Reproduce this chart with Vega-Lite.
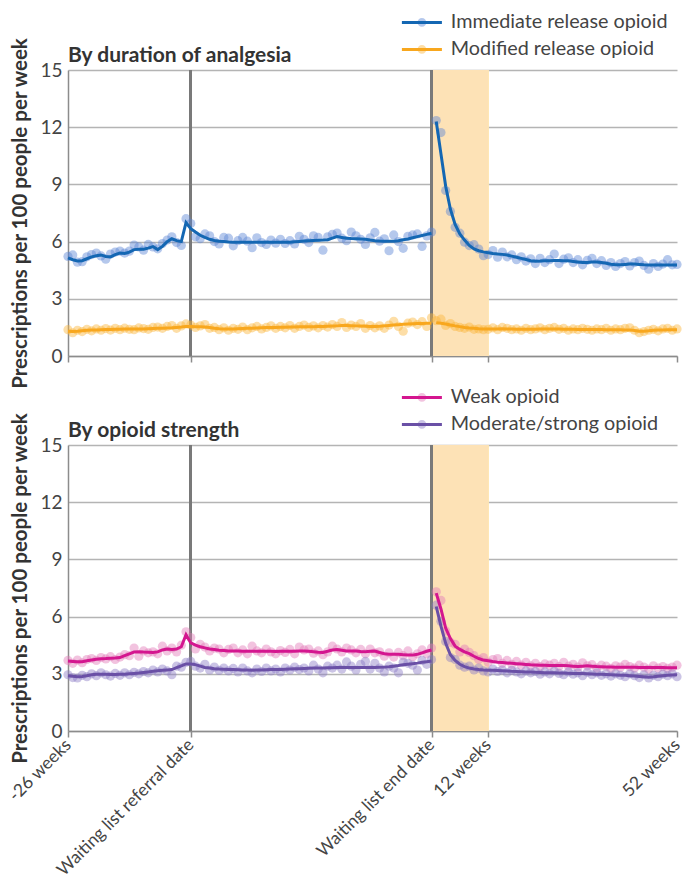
{
"$schema": "https://vega.github.io/schema/vega-lite/v6.json",
"padding": {"left": 5, "top": 12, "right": 5, "bottom": 0},
"spacing": -2,
"datasets": {
"top": [
{"s":"IR","x":-26,"o":5.22,"f":5.15},{"s":"IR","x":-25,"o":5.3,"f":5.05},{"s":"IR","x":-24,"o":4.92,"f":4.98},{"s":"IR","x":-23,"o":4.95,"f":5.0},{"s":"IR","x":-22,"o":5.2,"f":5.1},{"s":"IR","x":-21,"o":5.32,"f":5.2},{"s":"IR","x":-20,"o":5.4,"f":5.26},{"s":"IR","x":-19,"o":5.25,"f":5.3},{"s":"IR","x":-18,"o":5.08,"f":5.22},{"s":"IR","x":-17,"o":5.35,"f":5.2},{"s":"IR","x":-16,"o":5.45,"f":5.32},{"s":"IR","x":-15,"o":5.5,"f":5.4},{"s":"IR","x":-14,"o":5.4,"f":5.38},{"s":"IR","x":-13,"o":5.5,"f":5.45},{"s":"IR","x":-12,"o":5.82,"f":5.58},{"s":"IR","x":-11,"o":5.72,"f":5.6},{"s":"IR","x":-10,"o":5.55,"f":5.6},{"s":"IR","x":-9,"o":5.85,"f":5.66},{"s":"IR","x":-8,"o":5.72,"f":5.74},{"s":"IR","x":-7,"o":5.62,"f":5.58},{"s":"IR","x":-6,"o":5.9,"f":5.75},{"s":"IR","x":-5,"o":6.08,"f":6.0},{"s":"IR","x":-4,"o":6.25,"f":6.15},{"s":"IR","x":-3,"o":5.95,"f":6.05},{"s":"IR","x":-2,"o":5.8,"f":6.0},{"s":"IR","x":-1,"o":7.2,"f":7.0},{"s":"IR","x":0,"o":6.95,"f":6.68},
{"s":"IR","x":1,"o":6.25,"f":6.5},{"s":"IR","x":2,"o":6.15,"f":6.33},{"s":"IR","x":3,"o":6.4,"f":6.22},{"s":"IR","x":4,"o":6.3,"f":6.12},{"s":"IR","x":5,"o":6.0,"f":6.06},{"s":"IR","x":6,"o":5.88,"f":6.02},{"s":"IR","x":7,"o":6.22,"f":6.0},{"s":"IR","x":8,"o":6.18,"f":5.98},{"s":"IR","x":9,"o":5.78,"f":5.97},{"s":"IR","x":10,"o":6.05,"f":5.96},{"s":"IR","x":11,"o":6.22,"f":5.96},{"s":"IR","x":12,"o":6.02,"f":5.96},{"s":"IR","x":13,"o":5.68,"f":5.96},{"s":"IR","x":14,"o":6.2,"f":5.96},{"s":"IR","x":15,"o":5.95,"f":5.96},{"s":"IR","x":16,"o":5.85,"f":5.96},{"s":"IR","x":17,"o":6.08,"f":5.96},{"s":"IR","x":18,"o":5.92,"f":5.96},{"s":"IR","x":19,"o":6.12,"f":5.97},{"s":"IR","x":20,"o":5.9,"f":5.97},{"s":"IR","x":21,"o":6.05,"f":5.97},{"s":"IR","x":22,"o":5.88,"f":5.99},{"s":"IR","x":23,"o":6.28,"f":6.01},{"s":"IR","x":24,"o":6.12,"f":6.03},{"s":"IR","x":25,"o":5.95,"f":6.05},{"s":"IR","x":26,"o":6.3,"f":6.06},{"s":"IR","x":27,"o":6.22,"f":6.07},{"s":"IR","x":28,"o":5.55,"f":6.08},{"s":"IR","x":29,"o":6.25,"f":6.1},{"s":"IR","x":30,"o":6.38,"f":6.18},{"s":"IR","x":31,"o":6.45,"f":6.26},{"s":"IR","x":32,"o":6.18,"f":6.22},{"s":"IR","x":33,"o":6.05,"f":6.18},{"s":"IR","x":34,"o":6.5,"f":6.16},{"s":"IR","x":35,"o":6.3,"f":6.15},{"s":"IR","x":36,"o":6.12,"f":6.14},{"s":"IR","x":37,"o":5.85,"f":6.12},{"s":"IR","x":38,"o":6.2,"f":6.08},{"s":"IR","x":39,"o":6.48,"f":6.05},{"s":"IR","x":40,"o":6.02,"f":6.03},{"s":"IR","x":41,"o":6.15,"f":6.02},{"s":"IR","x":42,"o":5.52,"f":6.02},{"s":"IR","x":43,"o":6.35,"f":6.02},{"s":"IR","x":44,"o":6.0,"f":6.05},{"s":"IR","x":45,"o":5.65,"f":6.1},{"s":"IR","x":46,"o":6.28,"f":6.14},{"s":"IR","x":47,"o":6.35,"f":6.2},{"s":"IR","x":48,"o":6.4,"f":6.26},{"s":"IR","x":49,"o":5.75,"f":6.32},{"s":"IR","x":50,"o":6.3,"f":6.38},{"s":"IR","x":51,"o":6.5,"f":6.44},
{"s":"IR","x":52,"o":12.35,"f":12.3},{"s":"IR","x":53,"o":11.72,"f":10.6},{"s":"IR","x":54,"o":8.68,"f":8.9},{"s":"IR","x":55,"o":7.58,"f":7.7},{"s":"IR","x":56,"o":6.75,"f":6.9},{"s":"IR","x":57,"o":6.44,"f":6.4},{"s":"IR","x":58,"o":5.97,"f":6.08},{"s":"IR","x":59,"o":5.79,"f":5.8},{"s":"IR","x":60,"o":5.84,"f":5.62},{"s":"IR","x":61,"o":5.61,"f":5.52},{"s":"IR","x":62,"o":5.26,"f":5.46},{"s":"IR","x":63,"o":5.32,"f":5.42},{"s":"IR","x":64,"o":5.53,"f":5.38},{"s":"IR","x":65,"o":5.18,"f":5.35},{"s":"IR","x":66,"o":5.45,"f":5.33},{"s":"IR","x":67,"o":5.2,"f":5.3},{"s":"IR","x":68,"o":5.3,"f":5.24},{"s":"IR","x":69,"o":5.05,"f":5.18},{"s":"IR","x":70,"o":5.2,"f":5.12},{"s":"IR","x":71,"o":4.98,"f":5.06},{"s":"IR","x":72,"o":5.1,"f":5.0},{"s":"IR","x":73,"o":4.85,"f":4.97},{"s":"IR","x":74,"o":5.12,"f":4.98},{"s":"IR","x":75,"o":4.9,"f":5.0},{"s":"IR","x":76,"o":5.05,"f":5.0},{"s":"IR","x":77,"o":5.35,"f":5.01},{"s":"IR","x":78,"o":4.85,"f":5.01},{"s":"IR","x":79,"o":5.08,"f":5.0},{"s":"IR","x":80,"o":5.15,"f":4.99},{"s":"IR","x":81,"o":4.9,"f":4.96},{"s":"IR","x":82,"o":5.05,"f":4.93},{"s":"IR","x":83,"o":4.78,"f":4.9},{"s":"IR","x":84,"o":5.02,"f":4.9},{"s":"IR","x":85,"o":5.12,"f":4.93},{"s":"IR","x":86,"o":4.85,"f":4.93},{"s":"IR","x":87,"o":5.0,"f":4.91},{"s":"IR","x":88,"o":4.75,"f":4.86},{"s":"IR","x":89,"o":4.9,"f":4.81},{"s":"IR","x":90,"o":4.7,"f":4.78},{"s":"IR","x":91,"o":4.85,"f":4.78},{"s":"IR","x":92,"o":4.95,"f":4.8},{"s":"IR","x":93,"o":4.72,"f":4.82},{"s":"IR","x":94,"o":4.9,"f":4.82},{"s":"IR","x":95,"o":4.98,"f":4.8},{"s":"IR","x":96,"o":4.75,"f":4.78},{"s":"IR","x":97,"o":4.55,"f":4.77},{"s":"IR","x":98,"o":4.85,"f":4.77},{"s":"IR","x":99,"o":4.7,"f":4.77},{"s":"IR","x":100,"o":4.82,"f":4.77},{"s":"IR","x":101,"o":5.05,"f":4.77},{"s":"IR","x":102,"o":4.78,"f":4.77},{"s":"IR","x":103,"o":4.8,"f":4.77},
{"s":"MR","x":-26,"o":1.38,"f":1.3},{"s":"MR","x":-25,"o":1.22,"f":1.28},{"s":"MR","x":-24,"o":1.35,"f":1.3},{"s":"MR","x":-23,"o":1.28,"f":1.33},{"s":"MR","x":-22,"o":1.4,"f":1.35},{"s":"MR","x":-21,"o":1.32,"f":1.36},{"s":"MR","x":-20,"o":1.42,"f":1.37},{"s":"MR","x":-19,"o":1.35,"f":1.38},{"s":"MR","x":-18,"o":1.44,"f":1.39},{"s":"MR","x":-17,"o":1.36,"f":1.39},{"s":"MR","x":-16,"o":1.45,"f":1.4},{"s":"MR","x":-15,"o":1.38,"f":1.4},{"s":"MR","x":-14,"o":1.46,"f":1.41},{"s":"MR","x":-13,"o":1.4,"f":1.41},{"s":"MR","x":-12,"o":1.38,"f":1.42},{"s":"MR","x":-11,"o":1.47,"f":1.42},{"s":"MR","x":-10,"o":1.44,"f":1.42},{"s":"MR","x":-9,"o":1.4,"f":1.43},{"s":"MR","x":-8,"o":1.5,"f":1.44},{"s":"MR","x":-7,"o":1.52,"f":1.45},{"s":"MR","x":-6,"o":1.45,"f":1.46},{"s":"MR","x":-5,"o":1.55,"f":1.47},{"s":"MR","x":-4,"o":1.6,"f":1.48},{"s":"MR","x":-3,"o":1.45,"f":1.5},{"s":"MR","x":-2,"o":1.58,"f":1.52},{"s":"MR","x":-1,"o":1.68,"f":1.55},{"s":"MR","x":0,"o":1.62,"f":1.55},
{"s":"MR","x":1,"o":1.5,"f":1.54},{"s":"MR","x":2,"o":1.58,"f":1.53},{"s":"MR","x":3,"o":1.65,"f":1.52},{"s":"MR","x":4,"o":1.45,"f":1.49},{"s":"MR","x":5,"o":1.5,"f":1.46},{"s":"MR","x":6,"o":1.38,"f":1.43},{"s":"MR","x":7,"o":1.48,"f":1.42},{"s":"MR","x":8,"o":1.35,"f":1.42},{"s":"MR","x":9,"o":1.45,"f":1.42},{"s":"MR","x":10,"o":1.4,"f":1.43},{"s":"MR","x":11,"o":1.52,"f":1.44},{"s":"MR","x":12,"o":1.38,"f":1.45},{"s":"MR","x":13,"o":1.48,"f":1.46},{"s":"MR","x":14,"o":1.55,"f":1.47},{"s":"MR","x":15,"o":1.42,"f":1.48},{"s":"MR","x":16,"o":1.5,"f":1.49},{"s":"MR","x":17,"o":1.58,"f":1.5},{"s":"MR","x":18,"o":1.45,"f":1.5},{"s":"MR","x":19,"o":1.55,"f":1.51},{"s":"MR","x":20,"o":1.48,"f":1.51},{"s":"MR","x":21,"o":1.6,"f":1.52},{"s":"MR","x":22,"o":1.45,"f":1.52},{"s":"MR","x":23,"o":1.55,"f":1.53},{"s":"MR","x":24,"o":1.62,"f":1.53},{"s":"MR","x":25,"o":1.5,"f":1.54},{"s":"MR","x":26,"o":1.58,"f":1.54},{"s":"MR","x":27,"o":1.48,"f":1.55},{"s":"MR","x":28,"o":1.6,"f":1.55},{"s":"MR","x":29,"o":1.52,"f":1.56},{"s":"MR","x":30,"o":1.65,"f":1.57},{"s":"MR","x":31,"o":1.55,"f":1.58},{"s":"MR","x":32,"o":1.75,"f":1.6},{"s":"MR","x":33,"o":1.5,"f":1.6},{"s":"MR","x":34,"o":1.62,"f":1.59},{"s":"MR","x":35,"o":1.55,"f":1.58},{"s":"MR","x":36,"o":1.7,"f":1.57},{"s":"MR","x":37,"o":1.45,"f":1.56},{"s":"MR","x":38,"o":1.6,"f":1.55},{"s":"MR","x":39,"o":1.48,"f":1.55},{"s":"MR","x":40,"o":1.58,"f":1.56},{"s":"MR","x":41,"o":1.45,"f":1.58},{"s":"MR","x":42,"o":1.62,"f":1.6},{"s":"MR","x":43,"o":1.82,"f":1.62},{"s":"MR","x":44,"o":1.55,"f":1.64},{"s":"MR","x":45,"o":1.3,"f":1.66},{"s":"MR","x":46,"o":1.72,"f":1.68},{"s":"MR","x":47,"o":1.78,"f":1.69},{"s":"MR","x":48,"o":1.65,"f":1.7},{"s":"MR","x":49,"o":1.8,"f":1.71},{"s":"MR","x":50,"o":1.55,"f":1.72},{"s":"MR","x":51,"o":2.0,"f":1.72},
{"s":"MR","x":52,"o":1.85,"f":1.75},{"s":"MR","x":53,"o":1.93,"f":1.72},{"s":"MR","x":54,"o":1.6,"f":1.68},{"s":"MR","x":55,"o":1.7,"f":1.63},{"s":"MR","x":56,"o":1.55,"f":1.58},{"s":"MR","x":57,"o":1.5,"f":1.54},{"s":"MR","x":58,"o":1.45,"f":1.5},{"s":"MR","x":59,"o":1.52,"f":1.47},{"s":"MR","x":60,"o":1.4,"f":1.45},{"s":"MR","x":61,"o":1.42,"f":1.43},{"s":"MR","x":62,"o":1.38,"f":1.42},{"s":"MR","x":63,"o":1.4,"f":1.41},{"s":"MR","x":64,"o":1.48,"f":1.41},{"s":"MR","x":65,"o":1.38,"f":1.42},{"s":"MR","x":66,"o":1.5,"f":1.43},{"s":"MR","x":67,"o":1.45,"f":1.42},{"s":"MR","x":68,"o":1.38,"f":1.41},{"s":"MR","x":69,"o":1.42,"f":1.4},{"s":"MR","x":70,"o":1.35,"f":1.4},{"s":"MR","x":71,"o":1.45,"f":1.4},{"s":"MR","x":72,"o":1.38,"f":1.4},{"s":"MR","x":73,"o":1.42,"f":1.4},{"s":"MR","x":74,"o":1.48,"f":1.41},{"s":"MR","x":75,"o":1.38,"f":1.41},{"s":"MR","x":76,"o":1.45,"f":1.41},{"s":"MR","x":77,"o":1.5,"f":1.41},{"s":"MR","x":78,"o":1.4,"f":1.41},{"s":"MR","x":79,"o":1.45,"f":1.4},{"s":"MR","x":80,"o":1.35,"f":1.4},{"s":"MR","x":81,"o":1.42,"f":1.4},{"s":"MR","x":82,"o":1.38,"f":1.39},{"s":"MR","x":83,"o":1.45,"f":1.39},{"s":"MR","x":84,"o":1.4,"f":1.39},{"s":"MR","x":85,"o":1.35,"f":1.39},{"s":"MR","x":86,"o":1.42,"f":1.39},{"s":"MR","x":87,"o":1.38,"f":1.39},{"s":"MR","x":88,"o":1.45,"f":1.38},{"s":"MR","x":89,"o":1.35,"f":1.38},{"s":"MR","x":90,"o":1.42,"f":1.38},{"s":"MR","x":91,"o":1.38,"f":1.38},{"s":"MR","x":92,"o":1.45,"f":1.37},{"s":"MR","x":93,"o":1.48,"f":1.37},{"s":"MR","x":94,"o":1.35,"f":1.34},{"s":"MR","x":95,"o":1.22,"f":1.3},{"s":"MR","x":96,"o":1.28,"f":1.3},{"s":"MR","x":97,"o":1.35,"f":1.32},{"s":"MR","x":98,"o":1.4,"f":1.35},{"s":"MR","x":99,"o":1.32,"f":1.36},{"s":"MR","x":100,"o":1.42,"f":1.37},{"s":"MR","x":101,"o":1.45,"f":1.38},{"s":"MR","x":102,"o":1.35,"f":1.38},{"s":"MR","x":103,"o":1.42,"f":1.38}
],
"bottom": [
{"s":"W","x":-26,"o":3.7,"f":3.67},{"s":"W","x":-25,"o":3.55,"f":3.65},{"s":"W","x":-24,"o":3.72,"f":3.63},{"s":"W","x":-23,"o":3.58,"f":3.63},{"s":"W","x":-22,"o":3.75,"f":3.68},{"s":"W","x":-21,"o":3.8,"f":3.72},{"s":"W","x":-20,"o":3.7,"f":3.76},{"s":"W","x":-19,"o":3.85,"f":3.79},{"s":"W","x":-18,"o":3.78,"f":3.8},{"s":"W","x":-17,"o":3.9,"f":3.82},{"s":"W","x":-16,"o":3.75,"f":3.83},{"s":"W","x":-15,"o":3.88,"f":3.85},{"s":"W","x":-14,"o":4.0,"f":3.95},{"s":"W","x":-13,"o":3.95,"f":4.05},{"s":"W","x":-12,"o":4.35,"f":4.14},{"s":"W","x":-11,"o":3.92,"f":4.16},{"s":"W","x":-10,"o":4.2,"f":4.14},{"s":"W","x":-9,"o":4.1,"f":4.13},{"s":"W","x":-8,"o":4.15,"f":4.12},{"s":"W","x":-7,"o":4.05,"f":4.15},{"s":"W","x":-6,"o":4.45,"f":4.25},{"s":"W","x":-5,"o":4.2,"f":4.3},{"s":"W","x":-4,"o":4.35,"f":4.28},{"s":"W","x":-3,"o":4.15,"f":4.3},{"s":"W","x":-2,"o":4.5,"f":4.42},{"s":"W","x":-1,"o":5.2,"f":5.05},{"s":"W","x":0,"o":4.9,"f":4.62},
{"s":"W","x":1,"o":4.3,"f":4.5},{"s":"W","x":2,"o":4.55,"f":4.42},{"s":"W","x":3,"o":4.4,"f":4.36},{"s":"W","x":4,"o":4.2,"f":4.3},{"s":"W","x":5,"o":4.35,"f":4.27},{"s":"W","x":6,"o":4.3,"f":4.24},{"s":"W","x":7,"o":4.1,"f":4.22},{"s":"W","x":8,"o":4.28,"f":4.2},{"s":"W","x":9,"o":4.35,"f":4.19},{"s":"W","x":10,"o":4.1,"f":4.19},{"s":"W","x":11,"o":4.25,"f":4.18},{"s":"W","x":12,"o":4.05,"f":4.18},{"s":"W","x":13,"o":4.45,"f":4.18},{"s":"W","x":14,"o":4.2,"f":4.18},{"s":"W","x":15,"o":4.1,"f":4.18},{"s":"W","x":16,"o":4.3,"f":4.18},{"s":"W","x":17,"o":4.15,"f":4.18},{"s":"W","x":18,"o":4.05,"f":4.17},{"s":"W","x":19,"o":4.22,"f":4.18},{"s":"W","x":20,"o":4.12,"f":4.18},{"s":"W","x":21,"o":4.28,"f":4.18},{"s":"W","x":22,"o":4.05,"f":4.18},{"s":"W","x":23,"o":4.4,"f":4.19},{"s":"W","x":24,"o":4.25,"f":4.19},{"s":"W","x":25,"o":4.3,"f":4.18},{"s":"W","x":26,"o":4.08,"f":4.16},{"s":"W","x":27,"o":4.2,"f":4.13},{"s":"W","x":28,"o":4.0,"f":4.12},{"s":"W","x":29,"o":4.15,"f":4.18},{"s":"W","x":30,"o":4.45,"f":4.25},{"s":"W","x":31,"o":4.3,"f":4.28},{"s":"W","x":32,"o":4.15,"f":4.24},{"s":"W","x":33,"o":4.35,"f":4.2},{"s":"W","x":34,"o":4.25,"f":4.19},{"s":"W","x":35,"o":4.1,"f":4.19},{"s":"W","x":36,"o":4.28,"f":4.17},{"s":"W","x":37,"o":4.05,"f":4.16},{"s":"W","x":38,"o":4.3,"f":4.18},{"s":"W","x":39,"o":4.1,"f":4.19},{"s":"W","x":40,"o":4.15,"f":4.12},{"s":"W","x":41,"o":3.92,"f":4.05},{"s":"W","x":42,"o":4.1,"f":4.02},{"s":"W","x":43,"o":3.88,"f":4.02},{"s":"W","x":44,"o":4.12,"f":4.02},{"s":"W","x":45,"o":3.95,"f":4.0},{"s":"W","x":46,"o":4.2,"f":3.98},{"s":"W","x":47,"o":3.9,"f":3.98},{"s":"W","x":48,"o":4.05,"f":4.02},{"s":"W","x":49,"o":4.25,"f":4.1},{"s":"W","x":50,"o":4.05,"f":4.18},{"s":"W","x":51,"o":4.35,"f":4.25},
{"s":"W","x":52,"o":7.3,"f":7.23},{"s":"W","x":53,"o":6.85,"f":6.4},{"s":"W","x":54,"o":5.25,"f":5.4},{"s":"W","x":55,"o":4.65,"f":4.85},{"s":"W","x":56,"o":4.55,"f":4.45},{"s":"W","x":57,"o":4.15,"f":4.28},{"s":"W","x":58,"o":4.3,"f":4.15},{"s":"W","x":59,"o":4.12,"f":4.06},{"s":"W","x":60,"o":3.95,"f":3.92},{"s":"W","x":61,"o":3.75,"f":3.8},{"s":"W","x":62,"o":3.85,"f":3.72},{"s":"W","x":63,"o":3.6,"f":3.68},{"s":"W","x":64,"o":3.75,"f":3.64},{"s":"W","x":65,"o":3.8,"f":3.61},{"s":"W","x":66,"o":3.55,"f":3.59},{"s":"W","x":67,"o":3.7,"f":3.57},{"s":"W","x":68,"o":3.5,"f":3.55},{"s":"W","x":69,"o":3.65,"f":3.53},{"s":"W","x":70,"o":3.45,"f":3.51},{"s":"W","x":71,"o":3.6,"f":3.49},{"s":"W","x":72,"o":3.42,"f":3.47},{"s":"W","x":73,"o":3.55,"f":3.46},{"s":"W","x":74,"o":3.38,"f":3.45},{"s":"W","x":75,"o":3.52,"f":3.45},{"s":"W","x":76,"o":3.45,"f":3.44},{"s":"W","x":77,"o":3.55,"f":3.44},{"s":"W","x":78,"o":3.38,"f":3.43},{"s":"W","x":79,"o":3.6,"f":3.43},{"s":"W","x":80,"o":3.4,"f":3.42},{"s":"W","x":81,"o":3.5,"f":3.4},{"s":"W","x":82,"o":3.35,"f":3.38},{"s":"W","x":83,"o":3.58,"f":3.4},{"s":"W","x":84,"o":3.42,"f":3.42},{"s":"W","x":85,"o":3.48,"f":3.4},{"s":"W","x":86,"o":3.3,"f":3.38},{"s":"W","x":87,"o":3.45,"f":3.37},{"s":"W","x":88,"o":3.4,"f":3.36},{"s":"W","x":89,"o":3.28,"f":3.36},{"s":"W","x":90,"o":3.42,"f":3.35},{"s":"W","x":91,"o":3.35,"f":3.35},{"s":"W","x":92,"o":3.5,"f":3.35},{"s":"W","x":93,"o":3.38,"f":3.34},{"s":"W","x":94,"o":3.3,"f":3.34},{"s":"W","x":95,"o":3.45,"f":3.33},{"s":"W","x":96,"o":3.35,"f":3.33},{"s":"W","x":97,"o":3.25,"f":3.33},{"s":"W","x":98,"o":3.42,"f":3.33},{"s":"W","x":99,"o":3.3,"f":3.33},{"s":"W","x":100,"o":3.38,"f":3.33},{"s":"W","x":101,"o":3.28,"f":3.32},{"s":"W","x":102,"o":3.35,"f":3.32},{"s":"W","x":103,"o":3.45,"f":3.32},
{"s":"MS","x":-26,"o":2.95,"f":2.9},{"s":"MS","x":-25,"o":2.8,"f":2.87},{"s":"MS","x":-24,"o":2.78,"f":2.85},{"s":"MS","x":-23,"o":2.92,"f":2.86},{"s":"MS","x":-22,"o":2.85,"f":2.9},{"s":"MS","x":-21,"o":3.0,"f":2.95},{"s":"MS","x":-20,"o":2.9,"f":2.97},{"s":"MS","x":-19,"o":3.05,"f":2.98},{"s":"MS","x":-18,"o":2.95,"f":2.97},{"s":"MS","x":-17,"o":2.88,"f":2.96},{"s":"MS","x":-16,"o":3.02,"f":2.96},{"s":"MS","x":-15,"o":2.92,"f":2.97},{"s":"MS","x":-14,"o":3.05,"f":2.98},{"s":"MS","x":-13,"o":2.95,"f":3.0},{"s":"MS","x":-12,"o":3.08,"f":3.02},{"s":"MS","x":-11,"o":3.0,"f":3.04},{"s":"MS","x":-10,"o":3.12,"f":3.07},{"s":"MS","x":-9,"o":3.05,"f":3.1},{"s":"MS","x":-8,"o":3.2,"f":3.13},{"s":"MS","x":-7,"o":3.1,"f":3.16},{"s":"MS","x":-6,"o":3.25,"f":3.18},{"s":"MS","x":-5,"o":3.15,"f":3.2},{"s":"MS","x":-4,"o":2.95,"f":3.22},{"s":"MS","x":-3,"o":3.4,"f":3.32},{"s":"MS","x":-2,"o":3.35,"f":3.42},{"s":"MS","x":-1,"o":3.6,"f":3.52},{"s":"MS","x":0,"o":3.65,"f":3.52},
{"s":"MS","x":1,"o":3.4,"f":3.48},{"s":"MS","x":2,"o":3.3,"f":3.4},{"s":"MS","x":3,"o":3.5,"f":3.33},{"s":"MS","x":4,"o":3.2,"f":3.3},{"s":"MS","x":5,"o":3.35,"f":3.27},{"s":"MS","x":6,"o":3.18,"f":3.25},{"s":"MS","x":7,"o":3.3,"f":3.24},{"s":"MS","x":8,"o":3.15,"f":3.23},{"s":"MS","x":9,"o":3.28,"f":3.22},{"s":"MS","x":10,"o":3.1,"f":3.21},{"s":"MS","x":11,"o":3.3,"f":3.2},{"s":"MS","x":12,"o":3.15,"f":3.2},{"s":"MS","x":13,"o":3.05,"f":3.19},{"s":"MS","x":14,"o":3.25,"f":3.2},{"s":"MS","x":15,"o":3.12,"f":3.2},{"s":"MS","x":16,"o":3.3,"f":3.21},{"s":"MS","x":17,"o":3.15,"f":3.22},{"s":"MS","x":18,"o":3.25,"f":3.22},{"s":"MS","x":19,"o":3.1,"f":3.23},{"s":"MS","x":20,"o":3.3,"f":3.24},{"s":"MS","x":21,"o":3.2,"f":3.25},{"s":"MS","x":22,"o":3.35,"f":3.26},{"s":"MS","x":23,"o":3.22,"f":3.27},{"s":"MS","x":24,"o":3.3,"f":3.28},{"s":"MS","x":25,"o":3.15,"f":3.29},{"s":"MS","x":26,"o":3.45,"f":3.3},{"s":"MS","x":27,"o":3.25,"f":3.3},{"s":"MS","x":28,"o":3.05,"f":3.31},{"s":"MS","x":29,"o":3.4,"f":3.32},{"s":"MS","x":30,"o":3.3,"f":3.32},{"s":"MS","x":31,"o":3.45,"f":3.33},{"s":"MS","x":32,"o":3.25,"f":3.33},{"s":"MS","x":33,"o":3.62,"f":3.33},{"s":"MS","x":34,"o":3.4,"f":3.33},{"s":"MS","x":35,"o":3.2,"f":3.33},{"s":"MS","x":36,"o":3.5,"f":3.33},{"s":"MS","x":37,"o":3.65,"f":3.33},{"s":"MS","x":38,"o":3.25,"f":3.33},{"s":"MS","x":39,"o":3.55,"f":3.33},{"s":"MS","x":40,"o":3.3,"f":3.34},{"s":"MS","x":41,"o":3.1,"f":3.35},{"s":"MS","x":42,"o":3.4,"f":3.37},{"s":"MS","x":43,"o":3.3,"f":3.4},{"s":"MS","x":44,"o":3.05,"f":3.43},{"s":"MS","x":45,"o":3.6,"f":3.47},{"s":"MS","x":46,"o":3.55,"f":3.5},{"s":"MS","x":47,"o":3.45,"f":3.53},{"s":"MS","x":48,"o":3.2,"f":3.56},{"s":"MS","x":49,"o":3.7,"f":3.6},{"s":"MS","x":50,"o":3.5,"f":3.63},{"s":"MS","x":51,"o":3.75,"f":3.67},
{"s":"MS","x":52,"o":6.6,"f":6.53},{"s":"MS","x":53,"o":5.75,"f":5.5},{"s":"MS","x":54,"o":4.7,"f":4.6},{"s":"MS","x":55,"o":3.85,"f":4.0},{"s":"MS","x":56,"o":3.75,"f":3.7},{"s":"MS","x":57,"o":3.45,"f":3.5},{"s":"MS","x":58,"o":3.35,"f":3.38},{"s":"MS","x":59,"o":3.4,"f":3.3},{"s":"MS","x":60,"o":3.2,"f":3.25},{"s":"MS","x":61,"o":3.3,"f":3.22},{"s":"MS","x":62,"o":3.15,"f":3.2},{"s":"MS","x":63,"o":3.1,"f":3.19},{"s":"MS","x":64,"o":3.25,"f":3.18},{"s":"MS","x":65,"o":3.12,"f":3.17},{"s":"MS","x":66,"o":3.2,"f":3.16},{"s":"MS","x":67,"o":3.05,"f":3.15},{"s":"MS","x":68,"o":3.18,"f":3.13},{"s":"MS","x":69,"o":3.1,"f":3.12},{"s":"MS","x":70,"o":3.0,"f":3.11},{"s":"MS","x":71,"o":3.15,"f":3.1},{"s":"MS","x":72,"o":3.05,"f":3.09},{"s":"MS","x":73,"o":3.12,"f":3.08},{"s":"MS","x":74,"o":2.98,"f":3.07},{"s":"MS","x":75,"o":3.1,"f":3.06},{"s":"MS","x":76,"o":3.0,"f":3.05},{"s":"MS","x":77,"o":3.15,"f":3.05},{"s":"MS","x":78,"o":3.02,"f":3.04},{"s":"MS","x":79,"o":2.95,"f":3.04},{"s":"MS","x":80,"o":3.1,"f":3.03},{"s":"MS","x":81,"o":2.98,"f":3.02},{"s":"MS","x":82,"o":3.05,"f":3.02},{"s":"MS","x":83,"o":2.9,"f":3.01},{"s":"MS","x":84,"o":3.08,"f":3.0},{"s":"MS","x":85,"o":2.95,"f":2.99},{"s":"MS","x":86,"o":3.05,"f":2.98},{"s":"MS","x":87,"o":2.92,"f":2.97},{"s":"MS","x":88,"o":3.0,"f":2.96},{"s":"MS","x":89,"o":2.88,"f":2.95},{"s":"MS","x":90,"o":3.0,"f":2.94},{"s":"MS","x":91,"o":2.92,"f":2.93},{"s":"MS","x":92,"o":2.85,"f":2.92},{"s":"MS","x":93,"o":3.0,"f":2.9},{"s":"MS","x":94,"o":2.9,"f":2.88},{"s":"MS","x":95,"o":2.8,"f":2.86},{"s":"MS","x":96,"o":2.95,"f":2.84},{"s":"MS","x":97,"o":2.78,"f":2.82},{"s":"MS","x":98,"o":2.92,"f":2.84},{"s":"MS","x":99,"o":2.85,"f":2.87},{"s":"MS","x":100,"o":2.98,"f":2.9},{"s":"MS","x":101,"o":2.9,"f":2.92},{"s":"MS","x":102,"o":3.0,"f":2.94},{"s":"MS","x":103,"o":2.85,"f":2.95}
]
},
"resolve": {"scale": {"fill": "independent", "stroke": "independent"}},
"vconcat": [
{
"width": 609, "height": 286,
"data": {"name": "top"},
"title": {"text": "By duration of analgesia", "offset": -53},
"layer": [
{"mark": {"type": "rect", "color": "#fde2b6"}, "encoding": {"x": {"datum": 51, "type": "quantitative"}, "x2": {"datum": 63}}},
{"mark": {"type": "rule", "color": "#7a7a7a", "strokeWidth": 2}, "encoding": {"x": {"datum": 0, "type": "quantitative"}}},
{"mark": {"type": "rule", "color": "#7a7a7a", "strokeWidth": 2}, "encoding": {"x": {"datum": 51, "type": "quantitative"}}},
{"mark": {"type": "point", "filled": true, "size": 85, "opacity": 0.45},
 "encoding": {
  "x": {"field": "x", "type": "quantitative", "title": null, "scale": {"domain": [-26, 103], "nice": false, "zero": false}, "axis": {"values": [-26, 0, 51, 63, 103], "labels": false, "grid": false, "tickSize": 6}},
  "y": {"field": "o", "type": "quantitative", "title": "Prescriptions per 100 people per week", "scale": {"domain": [0, 15], "nice": false}, "axis": {"values": [0, 3, 6, 9, 12, 15], "ticks": false, "labelPadding": 6, "titlePadding": 9}},
  "fill": {"field": "s", "type": "nominal", "scale": {"domain": ["IR", "MR"], "range": ["#5c84d4", "#fbb63c"]},
   "legend": {"orient": "none", "legendX": 344, "legendY": -57.5, "title": null, "symbolType": "M0.55,0A0.55,0.55,0,1,1,-0.55,0A0.55,0.55,0,1,1,0.55,0Z", "symbolSize": 256, "symbolStrokeWidth": 0, "symbolOpacity": 0.45, "labelOpacity": 0, "labelLimit": 0, "labelOffset": 19, "rowPadding": 6, "padding": 0, "labelExpr": "datum.value == 'IR' ? 'Immediate release opioid' : 'Modified release opioid'"}}
 }},
{"transform": [{"filter": "datum.x <= 51"}], "mark": {"type": "line", "strokeWidth": 3},
 "encoding": {"x": {"field": "x", "type": "quantitative", "title": null}, "y": {"field": "f", "type": "quantitative", "title": "Prescriptions per 100 people per week"},
  "stroke": {"field": "s", "type": "nominal", "scale": {"range": ["#1467b3", "#f8a71e"]},
   "legend": {"orient": "none", "legendX": 344, "legendY": -57.5, "title": null, "symbolType": "M-2.5,0H2.5", "symbolSize": 256, "symbolStrokeWidth": 3, "labelLimit": 0, "labelOffset": 19, "rowPadding": 6, "padding": 0, "labelExpr": "datum.value == 'IR' ? 'Immediate release opioid' : 'Modified release opioid'"}}}},
{"transform": [{"filter": "datum.x >= 52"}], "mark": {"type": "line", "strokeWidth": 3},
 "encoding": {"x": {"field": "x", "type": "quantitative", "title": null}, "y": {"field": "f", "type": "quantitative", "title": "Prescriptions per 100 people per week"},
  "stroke": {"field": "s", "type": "nominal"}}}
]
},
{
"width": 609, "height": 286,
"data": {"name": "bottom"},
"title": {"text": "By opioid strength", "offset": -53},
"layer": [
{"mark": {"type": "rect", "color": "#fde2b6"}, "encoding": {"x": {"datum": 51, "type": "quantitative"}, "x2": {"datum": 63}}},
{"mark": {"type": "rule", "color": "#7a7a7a", "strokeWidth": 2}, "encoding": {"x": {"datum": 0, "type": "quantitative"}}},
{"mark": {"type": "rule", "color": "#7a7a7a", "strokeWidth": 2}, "encoding": {"x": {"datum": 51, "type": "quantitative"}}},
{"mark": {"type": "point", "filled": true, "size": 85, "opacity": 0.45},
 "encoding": {
  "x": {"field": "x", "type": "quantitative", "title": null, "scale": {"domain": [-26, 103], "nice": false, "zero": false}, "axis": {"values": [-26, 0, 51, 63, 103], "grid": false, "tickSize": 6, "labelAngle": -45, "labelAlign": "right", "labelBaseline": "middle", "labelFontSize": 17.5, "labelPadding": 5, "labelDx": -4, "labelLimit": 0, "labelOverlap": false, "labelFlush": false, "labelBound": false, "labelExpr": "datum.value == -26 ? '-26 weeks' : datum.value == 0 ? 'Waiting list referral date' : datum.value == 51 ? 'Waiting list end date' : datum.value == 63 ? '12 weeks' : '52 weeks'"}},
  "y": {"field": "o", "type": "quantitative", "title": "Prescriptions per 100 people per week", "scale": {"domain": [0, 15], "nice": false}, "axis": {"values": [0, 3, 6, 9, 12, 15], "ticks": false, "labelPadding": 6, "titlePadding": 9}},
  "fill": {"field": "s", "type": "nominal", "scale": {"domain": ["W", "MS"], "range": ["#e27ab8", "#8b7cc6"]},
   "legend": {"orient": "none", "legendX": 344, "legendY": -57.5, "title": null, "symbolType": "M0.55,0A0.55,0.55,0,1,1,-0.55,0A0.55,0.55,0,1,1,0.55,0Z", "symbolSize": 256, "symbolStrokeWidth": 0, "symbolOpacity": 0.45, "labelOpacity": 0, "labelLimit": 0, "labelOffset": 19, "rowPadding": 6, "padding": 0, "labelExpr": "datum.value == 'W' ? 'Weak opioid' : 'Moderate/strong opioid'"}}
 }},
{"transform": [{"filter": "datum.x <= 51"}], "mark": {"type": "line", "strokeWidth": 3},
 "encoding": {"x": {"field": "x", "type": "quantitative", "title": null}, "y": {"field": "f", "type": "quantitative", "title": "Prescriptions per 100 people per week"},
  "stroke": {"field": "s", "type": "nominal", "sort": ["W", "MS"], "scale": {"range": ["#d4168f", "#6a50a6"]},
   "legend": {"orient": "none", "legendX": 344, "legendY": -57.5, "title": null, "symbolType": "M-2.5,0H2.5", "symbolSize": 256, "symbolStrokeWidth": 3, "labelLimit": 0, "labelOffset": 19, "rowPadding": 6, "padding": 0, "labelExpr": "datum.value == 'W' ? 'Weak opioid' : 'Moderate/strong opioid'"}}}},
{"transform": [{"filter": "datum.x >= 52"}], "mark": {"type": "line", "strokeWidth": 3},
 "encoding": {"x": {"field": "x", "type": "quantitative", "title": null}, "y": {"field": "f", "type": "quantitative", "title": "Prescriptions per 100 people per week"},
  "stroke": {"field": "s", "type": "nominal", "sort": ["W", "MS"]}}}
]
}
],
"config": {
 "view": {"stroke": null},
 "font": "Lato",
 "axis": {"labelFont": "Lato", "labelFontSize": 19, "labelColor": "#444444", "titleFont": "Lato", "titleFontWeight": "bold", "titleFontSize": 20.5, "titleColor": "#333333", "domainColor": "#8c8c8c", "domainWidth": 1.5, "tickColor": "#8c8c8c", "tickWidth": 1.5, "gridColor": "#b4b4b4", "gridWidth": 1.5},
 "title": {"font": "Lato", "fontSize": 21, "fontWeight": "bold", "color": "#333333", "anchor": "start", "frame": "group"},
 "legend": {"labelFont": "Lato", "labelFontSize": 19.8, "labelColor": "#444444"}
}
}
